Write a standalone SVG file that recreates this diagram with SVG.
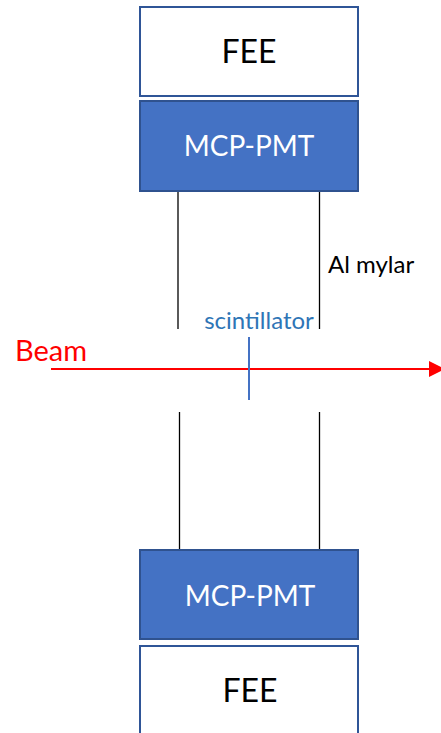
<svg xmlns="http://www.w3.org/2000/svg" width="441" height="733" viewBox="0 0 441 733">
<style>
.fee{fill:#FFFFFF;stroke:#2F5597;stroke-width:2}
.pmt{fill:#4472C4;stroke:#2F528F;stroke-width:2}
.t{font-family:Lato,"Open Sans","Liberation Sans",sans-serif;text-anchor:middle}
.l{font-family:Lato,"Open Sans","Liberation Sans",sans-serif}
.wire{stroke:#000000;stroke-width:1.3;fill:none}
</style>
<defs>
<marker id="arr" viewBox="0 0 10 10" refX="7.5" refY="5" markerWidth="8" markerHeight="8" markerUnits="strokeWidth" orient="auto">
<path d="M0,0 L10,5 L0,10 z" fill="#FF0000"/>
</marker>
</defs>
<rect width="441" height="733" fill="#FFFFFF"/>
<g id="fee-top">
<rect class="fee" x="140" y="7" width="218" height="89"/>
<text class="t" x="249" y="63" font-size="32" fill="#000000">FEE</text>
</g>
<g id="pmt-top">
<rect class="pmt" x="140" y="101" width="218" height="90"/>
<text class="t" x="249" y="156" font-size="28" fill="#FFFFFF">MCP-PMT</text>
</g>
<g id="pmt-bottom">
<rect class="pmt" x="140" y="550" width="218" height="89"/>
<text class="t" x="250" y="606" font-size="28" fill="#FFFFFF">MCP-PMT</text>
</g>
<g id="fee-bottom">
<rect class="fee" x="140" y="646" width="218" height="95"/>
<text class="t" x="250" y="702" font-size="32" fill="#000000">FEE</text>
</g>
<g id="connectors">
<line class="wire" x1="178" y1="192" x2="178" y2="329"/>
<line class="wire" x1="319.5" y1="192" x2="319.5" y2="329"/>
<line class="wire" x1="179.5" y1="412" x2="179.5" y2="549"/>
<line class="wire" x1="319.5" y1="412" x2="319.5" y2="549"/>
<line x1="51" y1="369" x2="441" y2="369" stroke="#FF0000" stroke-width="2" marker-end="url(#arr)"/>
<line x1="249" y1="337" x2="249" y2="400" stroke="#4472C4" stroke-width="2"/>
</g>
<g id="labels">
<text class="t" x="259" y="329" font-size="24" fill="#2E75B6">scintillator</text>
<text class="l" x="15" y="361" font-size="29" fill="#FF0000">Beam</text>
<text class="l" x="328" y="273" font-size="24" fill="#000000">Al mylar</text>
</g>
</svg>
